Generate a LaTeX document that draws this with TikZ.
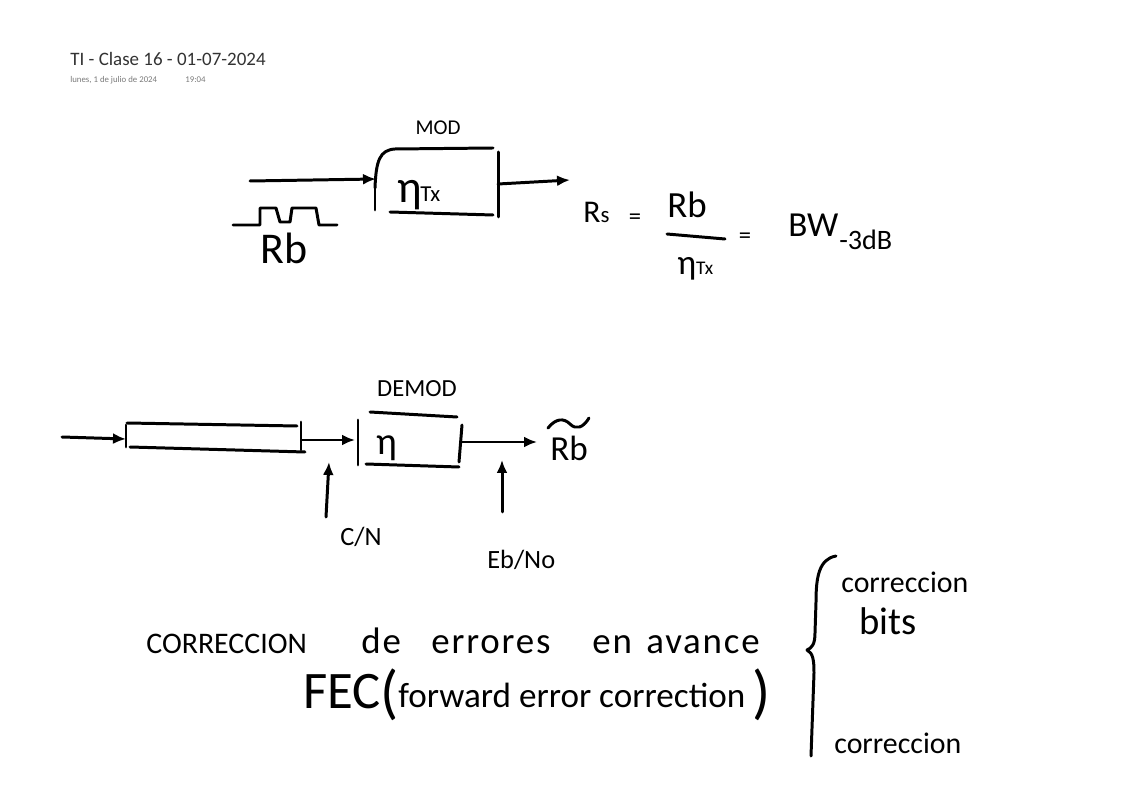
\documentclass[tikz,border=0pt]{standalone}
\usepackage{fontspec}
\setmainfont{Carlito}
\usetikzlibrary{arrows.meta}
\definecolor{Ink}{HTML}{000000}
\definecolor{Head}{HTML}{333333}
\definecolor{Stamp}{HTML}{7A7A7A}
\newcommand{\fs}[1]{\fontsize{#1}{#1}\selectfont}

\begin{document}
\begin{tikzpicture}[x=0.02cm, y=-0.02cm,
    pen/.style={draw=Ink, line width=1.7pt, line cap=round, line join=round},
    arr/.style={pen, -{Latex[length=2.6mm, width=2.2mm]}},
    hand/.style={inner sep=0pt, anchor=base west, text=Ink}
  ]
    \fill[white] (0,0) rectangle (1122,793);
    \useasboundingbox (0,0) rectangle (1122,793);
    % header
    \node[hand, text=Head, font=\fs{10.8}] (title) at (70,66) {TI - Clase 16 - 01-07-2024};
    \node[hand, text=Stamp, font=\fs{5}] (day) at (70,83) {lunes, 1 de julio de 2024};
    \node[hand, text=Stamp, font=\fs{5}] (hour) at (185,83) {19:04};
    % modulador
    \draw[pen] (375,178) -- (375,210);
    \draw[pen] (375,188) .. controls (376,160) and (380,150) .. (395,149) -- (493,148);
    \draw[pen] (498,152) -- (498,217);
    \draw[pen] (390,212) -- (493,215);
    \node[font=\fs{12}, text=Ink] (mod) at (438,128) {MOD};
    \node[hand, font=\fs{26}] (eta) at (397,203) {η};
    \node[hand, font=\fs{13}] (tx) at (420,202) {Tx};
    \coordinate (rbin) at (250,181);
    \coordinate (modin) at (376,179);
    \coordinate (modout) at (498,184);
    \coordinate (rsout) at (570,180);
    \draw[arr] (rbin) -- (modin);
    \draw[arr] (modout) -- (rsout);
    \draw[pen] (233,225) -- (260,225) -- (260,208) -- (276,208) -- (280,222) -- (290,222)
      -- (292,208) -- (316,208) -- (319,225) -- (337,225);
    \node[hand, font=\fs{25}] (rb) at (260,264) {Rb};
    % formula
    \node[hand, font=\fs{18}] (rs) at (583,223) {R{\fs{13}s}};
    \node[font=\fs{14}, text=Ink] (eq1) at (635,219) {=};
    \node[hand, font=\fs{21}] (num) at (667,218) {Rb};
    \draw[pen] (667,234) -- (725,239);
    \node[hand, font=\fs{20}] (den) at (677,275) {η{\fs{11}Tx}};
    \node[font=\fs{14}, text=Ink] (eq2) at (745,238) {=};
    \node[hand, font=\fs{20}] (bw) at (788,237) {BW};
    \node[hand, font=\fs{16}] (db) at (839,250) {-3dB};
    % canal
    \draw[pen] (126,425) -- (126,447);
    \draw[pen] (127,423) -- (297,426);
    \draw[pen] (130,447) -- (305,452);
    \draw[pen] (301,422) -- (301,450);
    \coordinate (chin) at (62,437);
    \coordinate (chl) at (126,439);
    \coordinate (chout) at (302,440);
    \coordinate (demin) at (355,440);
    \draw[arr] (chin) -- (chl);
    \draw[arr] (chout) -- (demin);
    % demodulador
    \draw[pen] (358,420) -- (358,465);
    \draw[pen] (370,412) -- (457,417);
    \draw[pen] (462,425) -- (459,462);
    \draw[pen] (366,464) -- (459,467);
    \node[font=\fs{14}, text=Ink] (demod) at (417,389) {DEMOD};
    \node[hand, font=\fs{22}] (eta2) at (376,455) {η};
    \coordinate (demout) at (461,442);
    \coordinate (rbout) at (537,442);
    \draw[arr] (demout) -- (rbout);
    \node[hand, font=\fs{20}] (rbt) at (550,460) {Rb};
    \draw[pen] (548,428) .. controls (556,418) and (564,418) .. (570,424) .. controls (576,430) and (583,428) .. (589,418);
    \coordinate (cnA) at (326,517);
    \coordinate (cnB) at (329,462);
    \draw[arr] (cnA) -- (cnB);
    \node[hand, font=\fs{15}] (cn) at (340,545) {C/N};
    \coordinate (ebA) at (502,512);
    \coordinate (ebB) at (502,460);
    \draw[arr] (ebA) -- (ebB);
    \node[hand, font=\fs{15}] (ebno) at (487,568) {Eb/No};
    % FEC
    \node[hand, font=\fs{17}] (w1) at (146,653) {CORRECCION};
    \node[hand, font=\fs{21}\addfontfeature{LetterSpace=5}] (w2) at (361,653) {de};
    \node[hand, font=\fs{21}\addfontfeature{LetterSpace=5}] (w3) at (431,653) {errores};
    \node[hand, font=\fs{21}\addfontfeature{LetterSpace=5}] (w4) at (592,653) {en};
    \node[hand, font=\fs{21}\addfontfeature{LetterSpace=5}] (w5) at (646,653) {avance};
    \node[hand, font=\fs{30}] (fec) at (303,708) {FEC};
    \node[hand, font=\fs{34}] (po) at (380,712) {(};
    \node[hand, font=\fs{20}] (fwd) at (398,707) {forward error correction};
    \node[hand, font=\fs{34}] (pc) at (752,712) {)};
    \draw[pen] (836,556) .. controls (819,559) and (816,577) .. (816,602)
      -- (815,633) .. controls (815,644) and (812,648) .. (807,650)
      .. controls (813,653) and (814,660) .. (814,673) -- (811,756);
    \node[hand, font=\fs{17}] (c1) at (841,592) {correccion};
    \node[hand, font=\fs{22}] (bits) at (859,634) {bits};
    \node[hand, font=\fs{17}] (c2) at (834,753) {correccion};
  \end{tikzpicture}
\end{document}
